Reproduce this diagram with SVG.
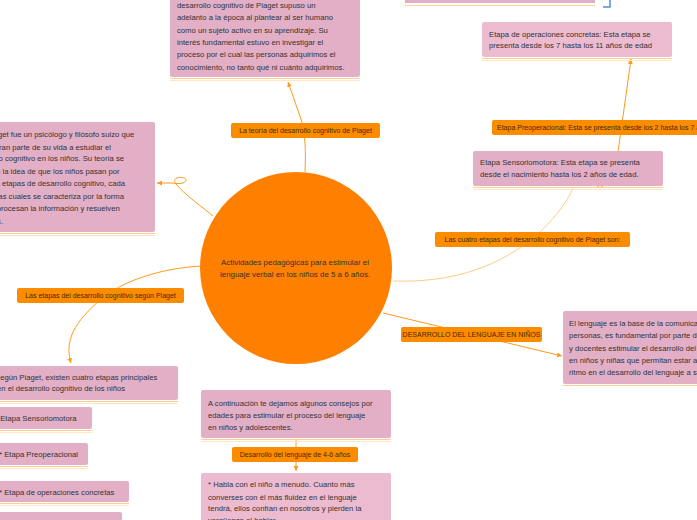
<svg xmlns="http://www.w3.org/2000/svg" width="697" height="520" viewBox="0 0 697 520">
<style>
.box{fill:#e2afc6;}
.boxl{fill:#edbbd0;}
.ul{stroke:#ffcf8f;stroke-width:1;fill:none;}
.ul2{stroke:#ffe6c4;stroke-width:1;fill:none;}
.t{font-family:"Liberation Sans",Arial,sans-serif;font-size:7.7px;fill:#333;}
.lab{fill:#fb8c00;}
.lt{font-family:"Liberation Sans",Arial,sans-serif;font-size:7px;fill:#4a2800;}
.c{stroke:#ff9a1a;stroke-width:1;fill:none;}
.cp{stroke:#ffcc88;stroke-width:1;fill:none;}
</style>
<defs>
<marker id="ah" markerWidth="6" markerHeight="6" refX="5" refY="3" orient="auto" markerUnits="userSpaceOnUse">
<path d="M0,0.5 L5,3 L0,5.5 Z" fill="#ff9a1a"/>
</marker>
</defs>
<rect width="697" height="520" fill="#ffffff"/>

<g id="connectors">
<path class="c" d="M305,172 C306,150 305,140 303,125 L288,82" marker-end="url(#ah)"/>
<path class="c" d="M213,216 C200,205 185,195 176,184 C170,176 186,176 186,180 C186,184 176,184 172,183 L157,183" marker-end="url(#ah)"/>
<path class="cp" d="M393,281 C450,283 500,268 540,232 C560,212 568,200 573,188"/>
<path class="c" d="M618,152 L631,59" marker-end="url(#ah)"/>
<path class="c" d="M596,185 L600,188 L604,185"/>
<path class="c" d="M383,313 L562,356" marker-end="url(#ah)"/>
<path class="c" d="M202,266 C160,268 120,282 100,300 C75,322 64,340 71,363" marker-end="url(#ah)"/>
<path class="c" d="M296,439 L296,471" marker-end="url(#ah)"/>
<path d="M603,7 L610,7 L610,0" stroke="#4a90e2" stroke-width="1.5" fill="none"/>
</g>

<g id="central">
<circle cx="296" cy="268" r="96" fill="#ff8000"/>
<text class="t" x="295" y="265" text-anchor="middle" fill="#222" style="font-size:7.9px">Actividades pedagógicas para estimular el</text>
<text class="t" x="295" y="277" text-anchor="middle" fill="#222" style="font-size:7.9px">lenguaje verbal en los niños de 5 a 6 años.</text>
</g>

<g id="top-fragment">
<rect class="box" x="405" y="-10" width="190" height="13"/>
<path class="ul" d="M405,5.5 H595"/>
</g>

<g id="teoria-box">
<rect class="box" x="170" y="-10" width="190" height="87" rx="2"/>
<path class="ul" d="M170,78.5 H360"/>
<path class="ul2" d="M170,80.5 H360"/>
<text class="t" x="177" y="8">desarrollo cognitivo de Piaget supuso un</text>
<text class="t" x="177" y="20">adelanto a la época al plantear al ser humano</text>
<text class="t" x="177" y="33">como un sujeto activo en su aprendizaje. Su</text>
<text class="t" x="177" y="45">interés fundamental estuvo en investigar el</text>
<text class="t" x="177" y="57">proceso por el cual las personas adquirimos el</text>
<text class="t" x="177" y="70">conocimiento, no tanto qué ni cuánto adquirimos.</text>
</g>

<g id="label-teoria">
<rect class="lab" x="231" y="123" width="149" height="15" rx="2"/>
<text class="lt" x="305.5" y="133" text-anchor="middle">La teoría del desarrollo cognitivo de Piaget</text>
</g>

<g id="piaget-box">
<rect class="box" x="-10" y="122" width="165" height="110" rx="2"/>
<path class="ul" d="M-10,233.5 H155"/>
<path class="ul2" d="M-10,235.5 H155"/>
<text class="t" x="-32" y="137">Jean Piaget fue un psicólogo y filósofo suizo que</text>
<text class="t" x="-30" y="150">dedicó gran parte de su vida a estudiar el</text>
<text class="t" x="-31" y="161">desarrollo cognitivo en los niños. Su teoría se</text>
<text class="t" x="-27" y="174">basa en la idea de que los niños pasan por</text>
<text class="t" x="-34" y="186">diferentes etapas de desarrollo cognitivo, cada</text>
<text class="t" x="-29" y="199">una de las cuales se caracteriza por la forma</text>
<text class="t" x="-29" y="211">en que procesan la información y resuelven</text>
<text class="t" x="-35" y="224">problemas.</text>
</g>

<g id="operaciones-box">
<rect class="boxl" x="482" y="22" width="190" height="35" rx="2"/>
<path class="ul" d="M482,58.5 H672"/>
<path class="ul2" d="M482,60.5 H672"/>
<text class="t" x="489" y="37">Etapa de operaciones concretas: Esta etapa se</text>
<text class="t" x="489" y="48">presenta desde los 7 hasta los 11 años de edad</text>
</g>

<g id="label-preoperacional">
<rect class="lab" x="492" y="120" width="225" height="15" rx="2"/>
<text class="lt" x="497" y="130">Etapa Preoperacional: Esta se presenta desde los 2 hasta los 7 años</text>
</g>

<g id="sensoriomotora-box">
<rect class="box" x="473" y="151" width="190" height="35" rx="2"/>
<path class="ul" d="M473,187.5 H663"/>
<path class="ul2" d="M473,189.5 H663"/>
<text class="t" x="480" y="165">Etapa Sensoriomotora: Esta etapa se presenta</text>
<text class="t" x="480" y="177">desde el nacimiento hasta los 2 años de edad.</text>
</g>

<g id="label-cuatro">
<rect class="lab" x="435" y="232" width="195" height="15" rx="2"/>
<text class="lt" x="532.5" y="242" text-anchor="middle">Las cuatro etapas del desarrollo cognitivo de Piaget son:</text>
</g>

<g id="label-lenguaje">
<rect class="lab" x="401" y="327" width="141" height="15" rx="2"/>
<text class="lt" x="471.5" y="337" text-anchor="middle">DESARROLLO DEL LENGUAJE EN NIÑOS</text>
</g>

<g id="lenguaje-box">
<rect class="box" x="563" y="311" width="150" height="73" rx="2"/>
<path class="ul" d="M563,385.5 H713"/>
<text class="t" x="569" y="326">El lenguaje es la base de la comunicación entre las</text>
<text class="t" x="569" y="338">personas, es fundamental por parte de padres</text>
<text class="t" x="569" y="351">y docentes estimular el desarrollo del lenguaje</text>
<text class="t" x="569" y="363">en niños y niñas que permitan estar a su</text>
<text class="t" x="569" y="375">ritmo en el desarrollo del lenguaje a su edad.</text>
</g>

<g id="label-etapas">
<rect class="lab" x="17" y="288" width="167" height="15" rx="2"/>
<text class="lt" x="100.5" y="298" text-anchor="middle">Las etapas del desarrollo cognitivo según Piaget</text>
</g>

<g id="segun-box">
<rect class="box" x="-10" y="366" width="188" height="34" rx="2"/>
<path class="ul" d="M-10,401.5 H178"/>
<path class="ul2" d="M-10,403.5 H178"/>
<text class="t" x="-5" y="380">Según Piaget, existen cuatro etapas principales</text>
<text class="t" x="-3" y="391">en el desarrollo cognitivo de los niños</text>
</g>

<g id="etapa1">
<rect class="box" x="-10" y="407" width="102" height="22" rx="2"/>
<path class="ul" d="M-10,430.5 H92"/>
<path class="ul2" d="M-10,432.5 H92"/>
<text class="t" x="-5" y="421">* Etapa Sensoriomotora</text>
</g>

<g id="etapa2">
<rect class="box" x="-10" y="443" width="98" height="22" rx="2"/>
<path class="ul" d="M-10,466.5 H88"/>
<path class="ul2" d="M-10,468.5 H88"/>
<text class="t" x="-1" y="457">* Etapa Preoperacional</text>
</g>

<g id="etapa3">
<rect class="box" x="-10" y="481" width="139" height="21" rx="2"/>
<path class="ul" d="M-10,503.5 H129"/>
<path class="ul2" d="M-10,505.5 H129"/>
<text class="t" x="-1" y="495">* Etapa de operaciones concretas</text>
</g>

<g id="etapa4">
<rect class="box" x="-10" y="512" width="132" height="21" rx="2"/>
<text class="t" x="-1" y="525">* Etapa de operaciones formales</text>
</g>

<g id="consejos-box">
<rect class="box" x="201" y="390" width="190" height="48" rx="2"/>
<path class="ul" d="M201,439.5 H391"/>
<path class="ul2" d="M201,441.5 H391"/>
<text class="t" x="208" y="406">A continuación te dejamos algunos consejos por</text>
<text class="t" x="208" y="418">edades para estimular el proceso del lenguaje</text>
<text class="t" x="208" y="430">en niños y adolescentes.</text>
</g>

<g id="label-desarrollo">
<rect class="lab" x="232" y="447" width="126" height="15" rx="2"/>
<text class="lt" x="295" y="457" text-anchor="middle">Desarrollo del lenguaje de 4-6 años</text>
</g>

<g id="habla-box">
<rect class="boxl" x="201" y="473" width="190" height="60" rx="2"/>
<text class="t" x="208" y="487">* Habla con el niño a menudo. Cuanto más</text>
<text class="t" x="208" y="500">converses con él más fluidez en el lenguaje</text>
<text class="t" x="208" y="511">tendrá, ellos confían en nosotros y pierden la</text>
<text class="t" x="208" y="523">vergüenza al hablar.</text>
</g>
</svg>
